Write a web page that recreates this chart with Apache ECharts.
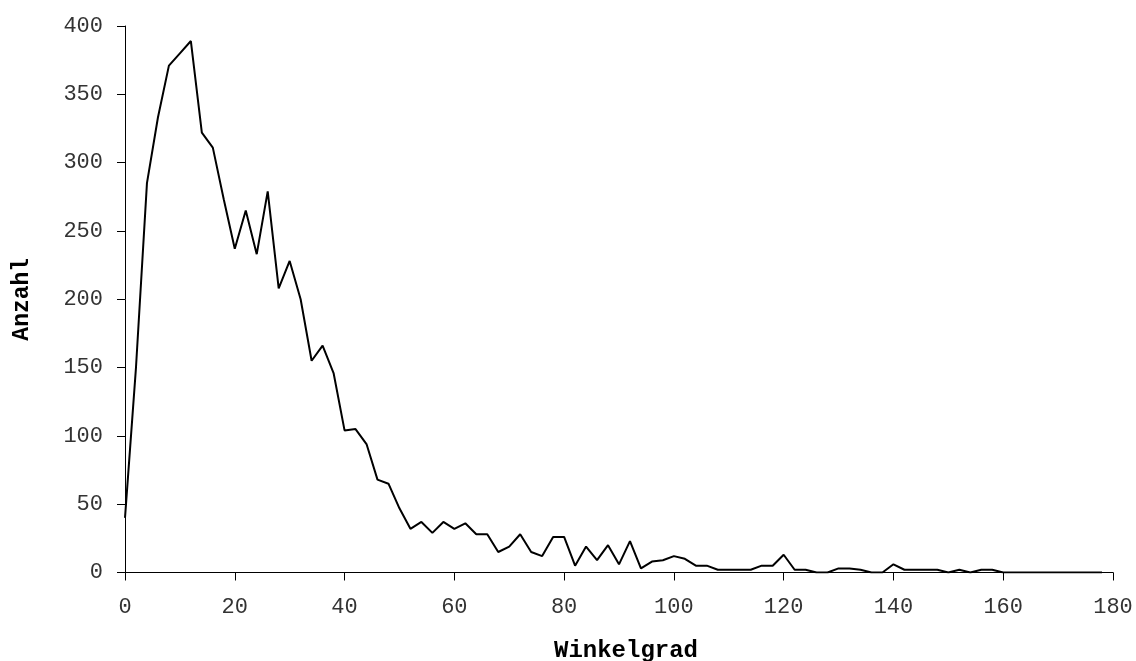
<!DOCTYPE html>
<html>
<head>
<meta charset="utf-8">
<title>Anzahl je Winkelgrad</title>
<script src="https://cdn.jsdelivr.net/npm/echarts@6/dist/echarts.min.js"></script>
<style>
  html, body { margin: 0; padding: 0; background: #ffffff; overflow: hidden; }
  #chart { width: 1136px; height: 661px; }
</style>
</head>
<body>
<div id="chart"></div>
<script>
// Winkel (Grad), in Schritten von 2
const angles = [
  0, 2, 4, 6, 8, 10, 12, 14, 16, 18,
  20, 22, 24, 26, 28, 30, 32, 34, 36, 38,
  40, 42, 44, 46, 48, 50, 52, 54, 56, 58,
  60, 62, 64, 66, 68, 70, 72, 74, 76, 78,
  80, 82, 84, 86, 88, 90, 92, 94, 96, 98,
  100, 102, 104, 106, 108, 110, 112, 114, 116, 118,
  120, 122, 124, 126, 128, 130, 132, 134, 136, 138,
  140, 142, 144, 146, 148, 150, 152, 154, 156, 158,
  160, 162, 164, 166, 168, 170, 172, 174, 176, 178
];

// Anzahl je Winkel
const counts = [
  40, 150, 285, 333, 371, 380, 389, 322, 311, 273,
  237, 265, 233, 279, 208, 228, 200, 155, 166, 146,
  104, 105, 94, 68, 65, 47, 32, 37, 29, 37,
  32, 36, 28, 28, 15, 19, 28, 15, 12, 26,
  26, 5, 19, 9, 20, 6, 23, 3, 8, 9,
  12, 10, 5, 5, 2, 2, 2, 2, 5, 5,
  13, 2, 2, 0, 0, 3, 3, 2, 0, 0,
  6, 2, 2, 2, 2, 0, 2, 0, 2, 2,
  0, 0, 0, 0, 0, 0, 0, 0, 0, 0
];

const xTitle = 'Winkelgrad';
const yTitle = 'Anzahl';

const points = angles.map((a, i) => [a, counts[i]]);

const monoFont = '"Liberation Mono", "DejaVu Sans Mono", monospace';

const chart = echarts.init(document.getElementById('chart'), null, { renderer: 'canvas' });

chart.setOption({
  animation: false,
  backgroundColor: '#ffffff',
  grid: { left: 125, right: 23, top: 26, bottom: 88.5, outerBoundsMode: 'none', containLabel: false },
  xAxis: {
    type: 'value',
    min: 0,
    max: 180,
    interval: 20,
    name: xTitle,
    nameLocation: 'middle',
    nameGap: 66.5,
    nameTextStyle: { fontFamily: monoFont, fontWeight: 'bold', fontSize: 24, color: '#000', padding: [0, 0, 0, 14] },
    axisLine: { show: true, lineStyle: { color: '#000', width: 1 } },
    axisTick: { show: true, inside: false, length: 8, lineStyle: { color: '#000' } },
    axisLabel: { margin: 23.5, fontFamily: monoFont, fontSize: 22, color: '#333' },
    splitLine: { show: false }
  },
  yAxis: {
    type: 'value',
    min: 0,
    max: 400,
    interval: 50,
    name: yTitle,
    nameLocation: 'middle',
    nameGap: 91,
    nameRotate: 90,
    nameTextStyle: { fontFamily: monoFont, fontWeight: 'bold', fontSize: 23, color: '#000' },
    axisLine: { show: true, lineStyle: { color: '#000', width: 1 } },
    axisTick: { show: true, inside: false, length: 8, lineStyle: { color: '#000' } },
    axisLabel: { margin: 22, fontFamily: monoFont, fontSize: 22, color: '#333' },
    splitLine: { show: false }
  },
  series: [{
    type: 'line',
    data: points,
    showSymbol: false,
    symbol: 'none',
    lineStyle: { color: '#000', width: 2 },
    z: 3
  }]
});
</script>
</body>
</html>
